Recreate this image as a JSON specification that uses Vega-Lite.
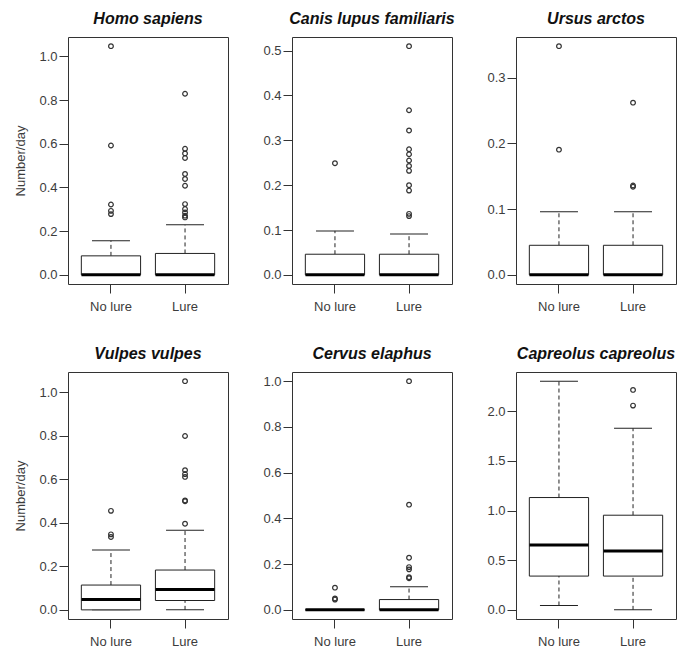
{
  "$schema": "https://vega.github.io/schema/vega-lite/v6.json",
  "padding": {"left": 14, "top": 10, "right": 2, "bottom": 2},
  "background": "white",
  "datasets": {
    "boxes": [
      {"sp": "Homo sapiens", "group": "No lure", "lower": 0, "q1": 0, "median": 0, "q3": 0.087, "upper": 0.156},
      {"sp": "Homo sapiens", "group": "Lure", "lower": 0, "q1": 0, "median": 0, "q3": 0.098, "upper": 0.229},
      {"sp": "Canis lupus familiaris", "group": "No lure", "lower": 0, "q1": 0, "median": 0, "q3": 0.046, "upper": 0.098},
      {"sp": "Canis lupus familiaris", "group": "Lure", "lower": 0, "q1": 0, "median": 0, "q3": 0.046, "upper": 0.091},
      {"sp": "Ursus arctos", "group": "No lure", "lower": 0, "q1": 0, "median": 0, "q3": 0.045, "upper": 0.096},
      {"sp": "Ursus arctos", "group": "Lure", "lower": 0, "q1": 0, "median": 0, "q3": 0.045, "upper": 0.096},
      {"sp": "Vulpes vulpes", "group": "No lure", "lower": 0, "q1": 0, "median": 0.048, "q3": 0.114, "upper": 0.275},
      {"sp": "Vulpes vulpes", "group": "Lure", "lower": 0, "q1": 0.043, "median": 0.094, "q3": 0.183, "upper": 0.366},
      {"sp": "Cervus elaphus", "group": "No lure", "lower": 0, "q1": 0, "median": 0, "q3": 0, "upper": 0},
      {"sp": "Cervus elaphus", "group": "Lure", "lower": 0, "q1": 0, "median": 0, "q3": 0.045, "upper": 0.101},
      {"sp": "Capreolus capreolus", "group": "No lure", "lower": 0.044, "q1": 0.34, "median": 0.653, "q3": 1.131, "upper": 2.303},
      {"sp": "Capreolus capreolus", "group": "Lure", "lower": 0, "q1": 0.34, "median": 0.593, "q3": 0.953, "upper": 1.828}
    ],
    "outliers": [
      {"sp": "Homo sapiens", "group": "No lure", "value": 1.047},
      {"sp": "Homo sapiens", "group": "No lure", "value": 0.592},
      {"sp": "Homo sapiens", "group": "No lure", "value": 0.322},
      {"sp": "Homo sapiens", "group": "No lure", "value": 0.293},
      {"sp": "Homo sapiens", "group": "No lure", "value": 0.278},
      {"sp": "Homo sapiens", "group": "Lure", "value": 0.829},
      {"sp": "Homo sapiens", "group": "Lure", "value": 0.577},
      {"sp": "Homo sapiens", "group": "Lure", "value": 0.556},
      {"sp": "Homo sapiens", "group": "Lure", "value": 0.535},
      {"sp": "Homo sapiens", "group": "Lure", "value": 0.462},
      {"sp": "Homo sapiens", "group": "Lure", "value": 0.439},
      {"sp": "Homo sapiens", "group": "Lure", "value": 0.408},
      {"sp": "Homo sapiens", "group": "Lure", "value": 0.324},
      {"sp": "Homo sapiens", "group": "Lure", "value": 0.301},
      {"sp": "Homo sapiens", "group": "Lure", "value": 0.286},
      {"sp": "Homo sapiens", "group": "Lure", "value": 0.271},
      {"sp": "Homo sapiens", "group": "Lure", "value": 0.263},
      {"sp": "Canis lupus familiaris", "group": "No lure", "value": 0.249},
      {"sp": "Canis lupus familiaris", "group": "Lure", "value": 0.51},
      {"sp": "Canis lupus familiaris", "group": "Lure", "value": 0.367},
      {"sp": "Canis lupus familiaris", "group": "Lure", "value": 0.322},
      {"sp": "Canis lupus familiaris", "group": "Lure", "value": 0.28},
      {"sp": "Canis lupus familiaris", "group": "Lure", "value": 0.269},
      {"sp": "Canis lupus familiaris", "group": "Lure", "value": 0.255},
      {"sp": "Canis lupus familiaris", "group": "Lure", "value": 0.243},
      {"sp": "Canis lupus familiaris", "group": "Lure", "value": 0.232},
      {"sp": "Canis lupus familiaris", "group": "Lure", "value": 0.2},
      {"sp": "Canis lupus familiaris", "group": "Lure", "value": 0.188},
      {"sp": "Canis lupus familiaris", "group": "Lure", "value": 0.136},
      {"sp": "Canis lupus familiaris", "group": "Lure", "value": 0.131},
      {"sp": "Ursus arctos", "group": "No lure", "value": 0.348},
      {"sp": "Ursus arctos", "group": "No lure", "value": 0.1905},
      {"sp": "Ursus arctos", "group": "Lure", "value": 0.262},
      {"sp": "Ursus arctos", "group": "Lure", "value": 0.136},
      {"sp": "Ursus arctos", "group": "Lure", "value": 0.134},
      {"sp": "Vulpes vulpes", "group": "No lure", "value": 0.455},
      {"sp": "Vulpes vulpes", "group": "No lure", "value": 0.347},
      {"sp": "Vulpes vulpes", "group": "No lure", "value": 0.335},
      {"sp": "Vulpes vulpes", "group": "Lure", "value": 1.051},
      {"sp": "Vulpes vulpes", "group": "Lure", "value": 0.799},
      {"sp": "Vulpes vulpes", "group": "Lure", "value": 0.642},
      {"sp": "Vulpes vulpes", "group": "Lure", "value": 0.624},
      {"sp": "Vulpes vulpes", "group": "Lure", "value": 0.611},
      {"sp": "Vulpes vulpes", "group": "Lure", "value": 0.503},
      {"sp": "Vulpes vulpes", "group": "Lure", "value": 0.499},
      {"sp": "Vulpes vulpes", "group": "Lure", "value": 0.396},
      {"sp": "Cervus elaphus", "group": "No lure", "value": 0.097},
      {"sp": "Cervus elaphus", "group": "No lure", "value": 0.05},
      {"sp": "Cervus elaphus", "group": "No lure", "value": 0.045},
      {"sp": "Cervus elaphus", "group": "Lure", "value": 1.0},
      {"sp": "Cervus elaphus", "group": "Lure", "value": 0.46},
      {"sp": "Cervus elaphus", "group": "Lure", "value": 0.228},
      {"sp": "Cervus elaphus", "group": "Lure", "value": 0.187},
      {"sp": "Cervus elaphus", "group": "Lure", "value": 0.177},
      {"sp": "Cervus elaphus", "group": "Lure", "value": 0.143},
      {"sp": "Cervus elaphus", "group": "Lure", "value": 0.138},
      {"sp": "Capreolus capreolus", "group": "Lure", "value": 2.215},
      {"sp": "Capreolus capreolus", "group": "Lure", "value": 2.057}
    ]
  },
  "bounds": "flush",
  "columns": 3,
  "spacing": {"row": 88, "column": 64},
  "concat": [
        {
          "width": 160, "height": 247,
          "title": "Homo sapiens",
          "layer": [
            {
              "data": {"name": "boxes"},
              "transform": [{"filter": "datum.sp === 'Homo sapiens'"}],
              "layer": [
                {"mark": {"type": "rule", "strokeDash": [4, 3], "color": "#222"},
                 "encoding": {"x": {"field": "group", "type": "nominal", "scale": {"type": "band", "domain": ["No lure", "Lure"], "paddingInner": 0.2, "paddingOuter": 0.18}, "axis": {"title": null, "labelAngle": 0}},
                   "y": {"field": "q3", "type": "quantitative", "scale": {"domain": [-0.0419, 1.0889], "nice": false, "zero": false}, "axis": {"values": [0, 0.2, 0.4, 0.6, 0.8, 1.0], "format": ".1f", "title": "Number/day"}},
                   "y2": {"field": "upper"}}},
                {"mark": {"type": "rule", "strokeDash": [4, 3], "color": "#222"},
                 "encoding": {"x": {"field": "group", "type": "nominal"},
                   "y": {"field": "lower", "type": "quantitative", "scale": {"domain": [-0.0419, 1.0889], "nice": false, "zero": false}, "axis": {"values": [0, 0.2, 0.4, 0.6, 0.8, 1.0], "format": ".1f", "title": "Number/day"}},
                   "y2": {"field": "q1"}}},
                {"mark": {"type": "tick", "size": 38, "thickness": 1, "color": "#222", "opacity": 1},
                 "encoding": {"x": {"field": "group", "type": "nominal"}, "y": {"field": "upper", "type": "quantitative", "axis": {"values": [0, 0.2, 0.4, 0.6, 0.8, 1.0], "format": ".1f", "title": "Number/day"}}}},
                {"mark": {"type": "tick", "size": 38, "thickness": 1, "color": "#222", "opacity": 1},
                 "encoding": {"x": {"field": "group", "type": "nominal"}, "y": {"field": "lower", "type": "quantitative", "axis": {"values": [0, 0.2, 0.4, 0.6, 0.8, 1.0], "format": ".1f", "title": "Number/day"}}}},
                {"mark": {"type": "bar", "fill": "white", "stroke": "#222", "strokeWidth": 1},
                 "encoding": {"x": {"field": "group", "type": "nominal"}, "y": {"field": "q1", "type": "quantitative", "axis": {"values": [0, 0.2, 0.4, 0.6, 0.8, 1.0], "format": ".1f", "title": "Number/day"}}, "y2": {"field": "q3"}}},
                {"mark": {"type": "tick", "size": 59, "thickness": 3, "color": "#000", "opacity": 1},
                 "encoding": {"x": {"field": "group", "type": "nominal"}, "y": {"field": "median", "type": "quantitative", "axis": {"values": [0, 0.2, 0.4, 0.6, 0.8, 1.0], "format": ".1f", "title": "Number/day"}}}}
              ]
            },
            {
              "data": {"name": "outliers"},
              "transform": [{"filter": "datum.sp === 'Homo sapiens'"}],
              "mark": {"type": "point", "shape": "circle", "filled": false, "size": 22, "strokeWidth": 1.2, "color": "#333", "opacity": 1},
              "encoding": {"x": {"field": "group", "type": "nominal"}, "y": {"field": "value", "type": "quantitative", "axis": {"values": [0, 0.2, 0.4, 0.6, 0.8, 1.0], "format": ".1f", "title": "Number/day"}}}
            }
          ]
        },
        {
          "width": 160, "height": 247,
          "title": "Canis lupus familiaris",
          "layer": [
            {
              "data": {"name": "boxes"},
              "transform": [{"filter": "datum.sp === 'Canis lupus familiaris'"}],
              "layer": [
                {"mark": {"type": "rule", "strokeDash": [4, 3], "color": "#222"},
                 "encoding": {"x": {"field": "group", "type": "nominal", "scale": {"type": "band", "domain": ["No lure", "Lure"], "paddingInner": 0.2, "paddingOuter": 0.18}, "axis": {"title": null, "labelAngle": 0}},
                   "y": {"field": "q3", "type": "quantitative", "scale": {"domain": [-0.0204, 0.5304], "nice": false, "zero": false}, "axis": {"values": [0, 0.1, 0.2, 0.3, 0.4, 0.5], "format": ".1f", "title": null}},
                   "y2": {"field": "upper"}}},
                {"mark": {"type": "rule", "strokeDash": [4, 3], "color": "#222"},
                 "encoding": {"x": {"field": "group", "type": "nominal"},
                   "y": {"field": "lower", "type": "quantitative", "axis": {"values": [0, 0.1, 0.2, 0.3, 0.4, 0.5], "format": ".1f", "title": null}},
                   "y2": {"field": "q1"}}},
                {"mark": {"type": "tick", "size": 38, "thickness": 1, "color": "#222", "opacity": 1},
                 "encoding": {"x": {"field": "group", "type": "nominal"}, "y": {"field": "upper", "type": "quantitative", "axis": {"values": [0, 0.1, 0.2, 0.3, 0.4, 0.5], "format": ".1f", "title": null}}}},
                {"mark": {"type": "tick", "size": 38, "thickness": 1, "color": "#222", "opacity": 1},
                 "encoding": {"x": {"field": "group", "type": "nominal"}, "y": {"field": "lower", "type": "quantitative", "axis": {"values": [0, 0.1, 0.2, 0.3, 0.4, 0.5], "format": ".1f", "title": null}}}},
                {"mark": {"type": "bar", "fill": "white", "stroke": "#222", "strokeWidth": 1},
                 "encoding": {"x": {"field": "group", "type": "nominal"}, "y": {"field": "q1", "type": "quantitative", "axis": {"values": [0, 0.1, 0.2, 0.3, 0.4, 0.5], "format": ".1f", "title": null}}, "y2": {"field": "q3"}}},
                {"mark": {"type": "tick", "size": 59, "thickness": 3, "color": "#000", "opacity": 1},
                 "encoding": {"x": {"field": "group", "type": "nominal"}, "y": {"field": "median", "type": "quantitative", "axis": {"values": [0, 0.1, 0.2, 0.3, 0.4, 0.5], "format": ".1f", "title": null}}}}
              ]
            },
            {
              "data": {"name": "outliers"},
              "transform": [{"filter": "datum.sp === 'Canis lupus familiaris'"}],
              "mark": {"type": "point", "shape": "circle", "filled": false, "size": 22, "strokeWidth": 1.2, "color": "#333", "opacity": 1},
              "encoding": {"x": {"field": "group", "type": "nominal"}, "y": {"field": "value", "type": "quantitative", "axis": {"values": [0, 0.1, 0.2, 0.3, 0.4, 0.5], "format": ".1f", "title": null}}}
            }
          ]
        },
        {
          "width": 160, "height": 247,
          "title": "Ursus arctos",
          "layer": [
            {
              "data": {"name": "boxes"},
              "transform": [{"filter": "datum.sp === 'Ursus arctos'"}],
              "layer": [
                {"mark": {"type": "rule", "strokeDash": [4, 3], "color": "#222"},
                 "encoding": {"x": {"field": "group", "type": "nominal", "scale": {"type": "band", "domain": ["No lure", "Lure"], "paddingInner": 0.2, "paddingOuter": 0.18}, "axis": {"title": null, "labelAngle": 0}},
                   "y": {"field": "q3", "type": "quantitative", "scale": {"domain": [-0.0139, 0.3619], "nice": false, "zero": false}, "axis": {"values": [0, 0.1, 0.2, 0.3], "format": ".1f", "title": null}},
                   "y2": {"field": "upper"}}},
                {"mark": {"type": "rule", "strokeDash": [4, 3], "color": "#222"},
                 "encoding": {"x": {"field": "group", "type": "nominal"},
                   "y": {"field": "lower", "type": "quantitative", "axis": {"values": [0, 0.1, 0.2, 0.3], "format": ".1f", "title": null}},
                   "y2": {"field": "q1"}}},
                {"mark": {"type": "tick", "size": 38, "thickness": 1, "color": "#222", "opacity": 1},
                 "encoding": {"x": {"field": "group", "type": "nominal"}, "y": {"field": "upper", "type": "quantitative", "axis": {"values": [0, 0.1, 0.2, 0.3], "format": ".1f", "title": null}}}},
                {"mark": {"type": "tick", "size": 38, "thickness": 1, "color": "#222", "opacity": 1},
                 "encoding": {"x": {"field": "group", "type": "nominal"}, "y": {"field": "lower", "type": "quantitative", "axis": {"values": [0, 0.1, 0.2, 0.3], "format": ".1f", "title": null}}}},
                {"mark": {"type": "bar", "fill": "white", "stroke": "#222", "strokeWidth": 1},
                 "encoding": {"x": {"field": "group", "type": "nominal"}, "y": {"field": "q1", "type": "quantitative", "axis": {"values": [0, 0.1, 0.2, 0.3], "format": ".1f", "title": null}}, "y2": {"field": "q3"}}},
                {"mark": {"type": "tick", "size": 59, "thickness": 3, "color": "#000", "opacity": 1},
                 "encoding": {"x": {"field": "group", "type": "nominal"}, "y": {"field": "median", "type": "quantitative", "axis": {"values": [0, 0.1, 0.2, 0.3], "format": ".1f", "title": null}}}}
              ]
            },
            {
              "data": {"name": "outliers"},
              "transform": [{"filter": "datum.sp === 'Ursus arctos'"}],
              "mark": {"type": "point", "shape": "circle", "filled": false, "size": 22, "strokeWidth": 1.2, "color": "#333", "opacity": 1},
              "encoding": {"x": {"field": "group", "type": "nominal"}, "y": {"field": "value", "type": "quantitative", "axis": {"values": [0, 0.1, 0.2, 0.3], "format": ".1f", "title": null}}}
            }
          ]
        },
        {
          "width": 160, "height": 247,
          "title": "Vulpes vulpes",
          "layer": [
            {
              "data": {"name": "boxes"},
              "transform": [{"filter": "datum.sp === 'Vulpes vulpes'"}],
              "layer": [
                {"mark": {"type": "rule", "strokeDash": [4, 3], "color": "#222"},
                 "encoding": {"x": {"field": "group", "type": "nominal", "scale": {"type": "band", "domain": ["No lure", "Lure"], "paddingInner": 0.2, "paddingOuter": 0.18}, "axis": {"title": null, "labelAngle": 0}},
                   "y": {"field": "q3", "type": "quantitative", "scale": {"domain": [-0.042, 1.093], "nice": false, "zero": false}, "axis": {"values": [0, 0.2, 0.4, 0.6, 0.8, 1.0], "format": ".1f", "title": "Number/day"}},
                   "y2": {"field": "upper"}}},
                {"mark": {"type": "rule", "strokeDash": [4, 3], "color": "#222"},
                 "encoding": {"x": {"field": "group", "type": "nominal"},
                   "y": {"field": "lower", "type": "quantitative", "axis": {"values": [0, 0.2, 0.4, 0.6, 0.8, 1.0], "format": ".1f", "title": "Number/day"}},
                   "y2": {"field": "q1"}}},
                {"mark": {"type": "tick", "size": 38, "thickness": 1, "color": "#222", "opacity": 1},
                 "encoding": {"x": {"field": "group", "type": "nominal"}, "y": {"field": "upper", "type": "quantitative", "axis": {"values": [0, 0.2, 0.4, 0.6, 0.8, 1.0], "format": ".1f", "title": "Number/day"}}}},
                {"mark": {"type": "tick", "size": 38, "thickness": 1, "color": "#222", "opacity": 1},
                 "encoding": {"x": {"field": "group", "type": "nominal"}, "y": {"field": "lower", "type": "quantitative", "axis": {"values": [0, 0.2, 0.4, 0.6, 0.8, 1.0], "format": ".1f", "title": "Number/day"}}}},
                {"mark": {"type": "bar", "fill": "white", "stroke": "#222", "strokeWidth": 1},
                 "encoding": {"x": {"field": "group", "type": "nominal"}, "y": {"field": "q1", "type": "quantitative", "axis": {"values": [0, 0.2, 0.4, 0.6, 0.8, 1.0], "format": ".1f", "title": "Number/day"}}, "y2": {"field": "q3"}}},
                {"mark": {"type": "tick", "size": 59, "thickness": 3, "color": "#000", "opacity": 1},
                 "encoding": {"x": {"field": "group", "type": "nominal"}, "y": {"field": "median", "type": "quantitative", "axis": {"values": [0, 0.2, 0.4, 0.6, 0.8, 1.0], "format": ".1f", "title": "Number/day"}}}}
              ]
            },
            {
              "data": {"name": "outliers"},
              "transform": [{"filter": "datum.sp === 'Vulpes vulpes'"}],
              "mark": {"type": "point", "shape": "circle", "filled": false, "size": 22, "strokeWidth": 1.2, "color": "#333", "opacity": 1},
              "encoding": {"x": {"field": "group", "type": "nominal"}, "y": {"field": "value", "type": "quantitative", "axis": {"values": [0, 0.2, 0.4, 0.6, 0.8, 1.0], "format": ".1f", "title": "Number/day"}}}
            }
          ]
        },
        {
          "width": 160, "height": 247,
          "title": "Cervus elaphus",
          "layer": [
            {
              "data": {"name": "boxes"},
              "transform": [{"filter": "datum.sp === 'Cervus elaphus'"}],
              "layer": [
                {"mark": {"type": "rule", "strokeDash": [4, 3], "color": "#222"},
                 "encoding": {"x": {"field": "group", "type": "nominal", "scale": {"type": "band", "domain": ["No lure", "Lure"], "paddingInner": 0.2, "paddingOuter": 0.18}, "axis": {"title": null, "labelAngle": 0}},
                   "y": {"field": "q3", "type": "quantitative", "scale": {"domain": [-0.04, 1.04], "nice": false, "zero": false}, "axis": {"values": [0, 0.2, 0.4, 0.6, 0.8, 1.0], "format": ".1f", "title": null}},
                   "y2": {"field": "upper"}}},
                {"mark": {"type": "rule", "strokeDash": [4, 3], "color": "#222"},
                 "encoding": {"x": {"field": "group", "type": "nominal"},
                   "y": {"field": "lower", "type": "quantitative", "axis": {"values": [0, 0.2, 0.4, 0.6, 0.8, 1.0], "format": ".1f", "title": null}},
                   "y2": {"field": "q1"}}},
                {"mark": {"type": "tick", "size": 38, "thickness": 1, "color": "#222", "opacity": 1},
                 "encoding": {"x": {"field": "group", "type": "nominal"}, "y": {"field": "upper", "type": "quantitative", "axis": {"values": [0, 0.2, 0.4, 0.6, 0.8, 1.0], "format": ".1f", "title": null}}}},
                {"mark": {"type": "tick", "size": 38, "thickness": 1, "color": "#222", "opacity": 1},
                 "encoding": {"x": {"field": "group", "type": "nominal"}, "y": {"field": "lower", "type": "quantitative", "axis": {"values": [0, 0.2, 0.4, 0.6, 0.8, 1.0], "format": ".1f", "title": null}}}},
                {"mark": {"type": "bar", "fill": "white", "stroke": "#222", "strokeWidth": 1},
                 "encoding": {"x": {"field": "group", "type": "nominal"}, "y": {"field": "q1", "type": "quantitative", "axis": {"values": [0, 0.2, 0.4, 0.6, 0.8, 1.0], "format": ".1f", "title": null}}, "y2": {"field": "q3"}}},
                {"mark": {"type": "tick", "size": 59, "thickness": 3, "color": "#000", "opacity": 1},
                 "encoding": {"x": {"field": "group", "type": "nominal"}, "y": {"field": "median", "type": "quantitative", "axis": {"values": [0, 0.2, 0.4, 0.6, 0.8, 1.0], "format": ".1f", "title": null}}}}
              ]
            },
            {
              "data": {"name": "outliers"},
              "transform": [{"filter": "datum.sp === 'Cervus elaphus'"}],
              "mark": {"type": "point", "shape": "circle", "filled": false, "size": 22, "strokeWidth": 1.2, "color": "#333", "opacity": 1},
              "encoding": {"x": {"field": "group", "type": "nominal"}, "y": {"field": "value", "type": "quantitative", "axis": {"values": [0, 0.2, 0.4, 0.6, 0.8, 1.0], "format": ".1f", "title": null}}}
            }
          ]
        },
        {
          "width": 160, "height": 247,
          "title": "Capreolus capreolus",
          "layer": [
            {
              "data": {"name": "boxes"},
              "transform": [{"filter": "datum.sp === 'Capreolus capreolus'"}],
              "layer": [
                {"mark": {"type": "rule", "strokeDash": [4, 3], "color": "#222"},
                 "encoding": {"x": {"field": "group", "type": "nominal", "scale": {"type": "band", "domain": ["No lure", "Lure"], "paddingInner": 0.2, "paddingOuter": 0.18}, "axis": {"title": null, "labelAngle": 0}},
                   "y": {"field": "q3", "type": "quantitative", "scale": {"domain": [-0.0921, 2.3951], "nice": false, "zero": false}, "axis": {"values": [0, 0.5, 1.0, 1.5, 2.0], "format": ".1f", "title": null}},
                   "y2": {"field": "upper"}}},
                {"mark": {"type": "rule", "strokeDash": [4, 3], "color": "#222"},
                 "encoding": {"x": {"field": "group", "type": "nominal"},
                   "y": {"field": "lower", "type": "quantitative", "axis": {"values": [0, 0.5, 1.0, 1.5, 2.0], "format": ".1f", "title": null}},
                   "y2": {"field": "q1"}}},
                {"mark": {"type": "tick", "size": 38, "thickness": 1, "color": "#222", "opacity": 1},
                 "encoding": {"x": {"field": "group", "type": "nominal"}, "y": {"field": "upper", "type": "quantitative", "axis": {"values": [0, 0.5, 1.0, 1.5, 2.0], "format": ".1f", "title": null}}}},
                {"mark": {"type": "tick", "size": 38, "thickness": 1, "color": "#222", "opacity": 1},
                 "encoding": {"x": {"field": "group", "type": "nominal"}, "y": {"field": "lower", "type": "quantitative", "axis": {"values": [0, 0.5, 1.0, 1.5, 2.0], "format": ".1f", "title": null}}}},
                {"mark": {"type": "bar", "fill": "white", "stroke": "#222", "strokeWidth": 1},
                 "encoding": {"x": {"field": "group", "type": "nominal"}, "y": {"field": "q1", "type": "quantitative", "axis": {"values": [0, 0.5, 1.0, 1.5, 2.0], "format": ".1f", "title": null}}, "y2": {"field": "q3"}}},
                {"mark": {"type": "tick", "size": 59, "thickness": 3, "color": "#000", "opacity": 1},
                 "encoding": {"x": {"field": "group", "type": "nominal"}, "y": {"field": "median", "type": "quantitative", "axis": {"values": [0, 0.5, 1.0, 1.5, 2.0], "format": ".1f", "title": null}}}}
              ]
            },
            {
              "data": {"name": "outliers"},
              "transform": [{"filter": "datum.sp === 'Capreolus capreolus'"}],
              "mark": {"type": "point", "shape": "circle", "filled": false, "size": 22, "strokeWidth": 1.2, "color": "#333", "opacity": 1},
              "encoding": {"x": {"field": "group", "type": "nominal"}, "y": {"field": "value", "type": "quantitative", "axis": {"values": [0, 0.5, 1.0, 1.5, 2.0], "format": ".1f", "title": null}}}
            }
          ]
        }
  ],
  "config": {
    "font": "Liberation Sans",
    "view": {"stroke": "#333", "strokeWidth": 1, "fill": "white"},
    "axis": {
      "grid": false, "domain": false, "tickColor": "#333", "tickSize": 9,
      "labelFont": "Liberation Sans", "labelFontSize": 13, "labelColor": "#3c3c3c", "labelPadding": 2,
      "titleFont": "Liberation Sans", "titleFontSize": 13, "titleFontWeight": "normal", "titleColor": "#3c3c3c", "titlePadding": 11
    },
    "axisX": {"labelPadding": 7},
    "title": {
      "font": "Liberation Sans", "fontSize": 16, "fontStyle": "italic", "fontWeight": "bold",
      "color": "#111", "anchor": "middle", "frame": "group", "baseline": "alphabetic", "offset": 10
    }
  }
}
